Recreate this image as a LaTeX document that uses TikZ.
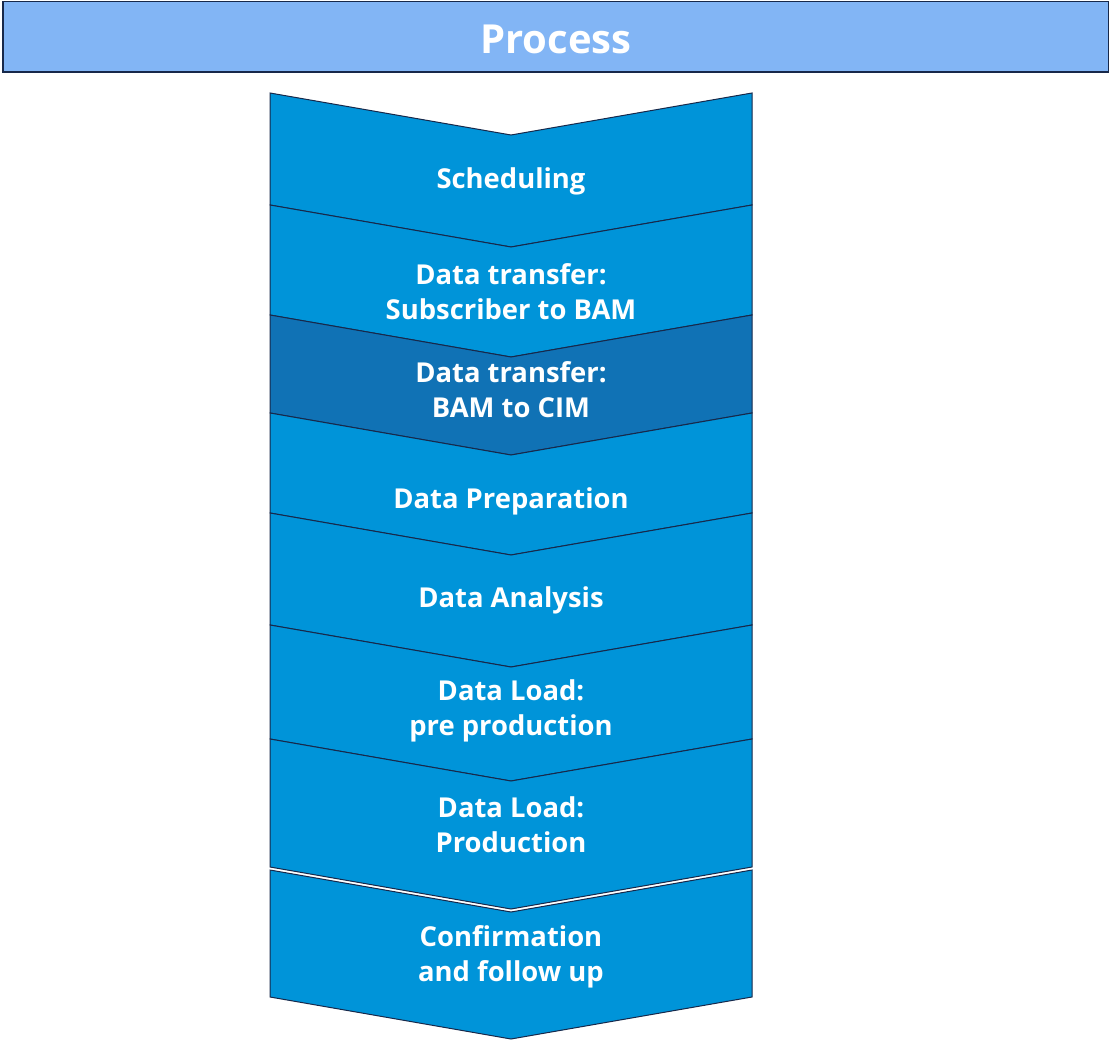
\documentclass[tikz,border=0pt]{standalone}
\usepackage{fontspec}
\setmainfont{Open Sans}
\definecolor{headblue}{HTML}{82B5F5}
\definecolor{stepblue}{HTML}{0094D9}
\definecolor{darkstep}{HTML}{1072B5}
\definecolor{edgeblue}{HTML}{17284A}

\begin{document}
\begin{tikzpicture}[x=1pt,y=-1pt,
  chev/.style={draw=edgeblue,line width=1pt},
  lbl/.style={text=white,font=\bfseries\fontsize{27.4}{35}\selectfont,align=center,inner sep=0pt}]
\useasboundingbox (0,0) rectangle (1110,1040);
% header bar
\draw[fill=headblue,draw=edgeblue,line width=1.2pt] (3,1.5) rectangle (1108.5,72);
\node[text=white,font=\bfseries\fontsize{40}{44}\selectfont] (title) at (556,39) {Process};
% steps
\foreach \t/\b/\ty/\c/\n/\l in {93/205/181/stepblue/sched/Scheduling,
  205/315/292/stepblue/subbam/{Data transfer:\\Subscriber to BAM},
  315/413/390/darkstep/bamcim/{Data transfer:\\BAM to CIM},
  413/513/501/stepblue/prep/Data Preparation,
  513/625/600/stepblue/anal/Data Analysis,
  625/739/711/stepblue/preprod/{Data Load:\\pre production},
  739/867/825/stepblue/prod/{Data Load:\\ Production},
  870/997/957/stepblue/confirm/{Confirmation\\and follow up}}
{
\draw[chev,fill=\c] (270,\t) -- (511,{\t+42}) -- (752,\t) -- (752,\b)
  -- (511,{\b+42}) -- (270,\b) -- cycle;
\node[lbl] (\n) at (511,\ty) {\l};
}
\end{tikzpicture}
\end{document}
